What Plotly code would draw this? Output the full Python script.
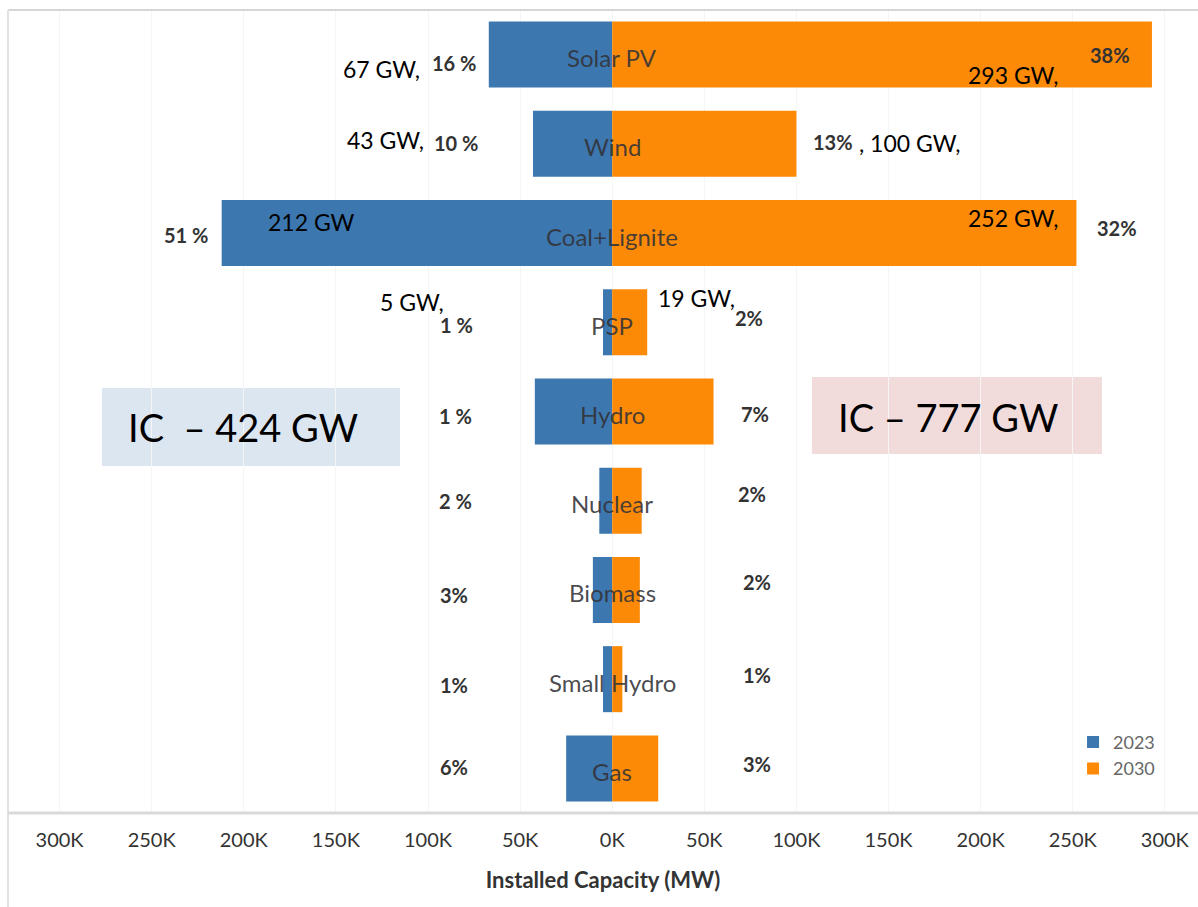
import plotly.graph_objects as go

# Installed capacity by source (MW)
categories = ["Solar PV", "Wind", "Coal+Lignite", "PSP", "Hydro",
              "Nuclear", "Biomass", "Small Hydro", "Gas"]
capacity_2023 = [67000, 43000, 212000, 5000, 42000, 7000, 10500, 5000, 25000]
capacity_2030 = [293000, 100000, 252000, 19000, 55000, 16000, 15000, 5500, 25000]

share_2023 = ["16 %", "10 %", "51 %", "1 %", "1 %", "2 %", "3%", "1%", "6%"]
share_2030 = ["38%", "13%", "32%", "2%", "7%", "2%", "2%", "1%", "3%"]

# Capacity callouts per category
gw_2023 = {"Solar PV": "67 GW,", "Wind": "43 GW,", "Coal+Lignite": "212 GW", "PSP": "5 GW,"}
gw_2030 = {"Solar PV": "293 GW,", "Wind": ", 100 GW,", "Coal+Lignite": "252 GW,", "PSP": "19 GW,"}

total_2023 = "IC  – 424 GW"
total_2030 = "IC – 777 GW"

tick_values = [-300000, -250000, -200000, -150000, -100000, -50000, 0,
               50000, 100000, 150000, 200000, 250000, 300000]
tick_labels = ["300K", "250K", "200K", "150K", "100K", "50K", "0K",
               "50K", "100K", "150K", "200K", "250K", "300K"]

BLUE = "#3c77b0"
ORANGE = "#fd8a07"

fig = go.Figure()
fig.add_trace(go.Bar(
    y=categories, x=[-v for v in capacity_2023], orientation="h",
    name="2023", marker=dict(color=BLUE, line_width=0),
    customdata=capacity_2023, hovertemplate="%{y}: %{customdata:,} MW<extra>2023</extra>",
))
fig.add_trace(go.Bar(
    y=categories, x=capacity_2030, orientation="h",
    name="2030", marker=dict(color=ORANGE, line_width=0),
    hovertemplate="%{y}: %{x:,} MW<extra>2030</extra>",
))

annotations = []

# Category names sit over the centre line
for c in categories:
    annotations.append(dict(x=0, y=c, xref="x", yref="y", text=c, showarrow=False,
                            yshift=-3, font=dict(family="Lato", size=24, color="rgba(50,50,55,0.88)")))

# Share labels, placed per category (x in MW, vertical nudge in px)
share_pos_2023 = [(-85800, -8), (-84700, 1), (-231300, -2), (-84700, -3), (-85300, -4),
                  (-85300, 0), (-85800, -5), (-85800, -6), (-85800, 1)]
share_pos_2030 = [(270400, 0), (120000, 2), (274200, 5), (74400, 4), (77600, -2),
                  (76000, 7), (78700, 8), (78700, 4), (78700, 4)]
pct_font = dict(family="Lato", size=20, color="#333333", weight="bold")
for c, t, (px, dy) in zip(categories, share_2023, share_pos_2023):
    annotations.append(dict(x=px, y=c, xref="x", yref="y", text=t, showarrow=False,
                            yshift=dy, font=pct_font))
for c, t, (px, dy) in zip(categories, share_2030, share_pos_2030):
    annotations.append(dict(x=px, y=c, xref="x", yref="y", text=t, showarrow=False,
                            yshift=dy, font=pct_font))

# GW callouts
gw_pos_2023 = {"Solar PV": (-125400, -14), "Wind": (-123200, 4),
               "Coal+Lignite": (-163400, 11), "PSP": (-108600, 20)}
gw_pos_2030 = {"Solar PV": (217700, -20), "Wind": (161800, 1),
               "Coal+Lignite": (217700, 15), "PSP": (45600, 24)}
gw_font = dict(family="Lato", size=23, color="#000000")
for c, t in gw_2023.items():
    px, dy = gw_pos_2023[c]
    annotations.append(dict(x=px, y=c, xref="x", yref="y", text=t, showarrow=False,
                            yshift=dy, font=gw_font))
for c, t in gw_2030.items():
    px, dy = gw_pos_2030[c]
    annotations.append(dict(x=px, y=c, xref="x", yref="y", text=t, showarrow=False,
                            yshift=dy, font=gw_font))

# Total installed capacity boxes and frame lines
shapes = [
    dict(type="rect", xref="paper", yref="paper", x0=0.0790, x1=0.3294, y0=0.4321, y1=0.5293,
         fillcolor="#dce6f1", line_width=0, layer="below"),
    dict(type="rect", xref="paper", yref="paper", x0=0.6756, x1=0.9193, y0=0.4471, y1=0.5430,
         fillcolor="#f2dcdb", line_width=0, layer="below"),
    dict(type="line", xref="paper", yref="paper", x0=0, x1=1, y0=1, y1=1,
         line=dict(color="#d6d6d6", width=2)),
    dict(type="line", xref="paper", yref="paper", x0=0, x1=0, y0=-0.118, y1=1,
         line=dict(color="#e2e2e2", width=2)),
    dict(type="line", xref="paper", yref="paper", x0=0, x1=1, y0=0, y1=0,
         line=dict(color="#d9d9d9", width=3)),
]
annotations.append(dict(x=0.0992, y=0.4807, xref="paper", yref="paper", text=total_2023,
                        showarrow=False, xanchor="left",
                        font=dict(family="Lato", size=38, color="#000000")))
annotations.append(dict(x=0.6958, y=0.4932, xref="paper", yref="paper", text=total_2030,
                        showarrow=False, xanchor="left",
                        font=dict(family="Lato", size=38, color="#000000")))

fig.update_layout(
    width=1198, height=907,
    margin=dict(l=8, r=0, t=10, b=94),
    paper_bgcolor="white", plot_bgcolor="white",
    barmode="relative", bargap=0.26,
    showlegend=True,
    legend=dict(x=0.895, y=0.111, xanchor="left", yanchor="top",
                font=dict(family="Lato", size=18, color="#666666"),
                bgcolor="rgba(0,0,0,0)", itemwidth=30, tracegroupgap=0),
    xaxis=dict(range=[-328000, 318000], tickvals=tick_values, ticktext=tick_labels,
               showgrid=True, gridcolor="#f5f5f5", zeroline=False, showline=False,
               ticks="", ticklabelstandoff=13,
               tickfont=dict(family="Lato", size=20, color="#333333"),
               title=dict(text="Installed Capacity (MW)", standoff=22,
                          font=dict(family="Lato", size=22, color="#333333", weight="bold"))),
    yaxis=dict(categoryorder="array", categoryarray=categories, range=[8.5, -0.5],
               showticklabels=False, showgrid=False, zeroline=False, showline=False, ticks=""),
    annotations=annotations, shapes=shapes,
)

fig.write_html("out.html")
